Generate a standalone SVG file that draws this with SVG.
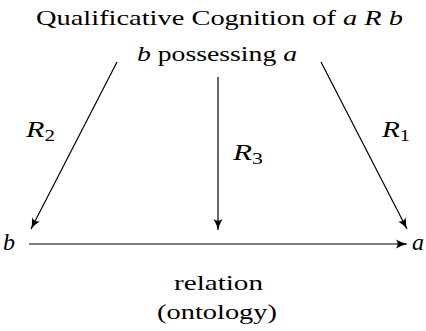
<svg xmlns="http://www.w3.org/2000/svg" width="426" height="331" viewBox="0 0 426 331">
<style>
text{font-family:'Liberation Serif','DejaVu Serif',serif;font-size:22px;fill:#000}
.i{font-style:italic}
.e{font-style:italic;font-size:24px}
.r{font-style:italic;font-size:23px}
.s{font-style:normal;font-size:16px}
.c{stroke:#000;stroke-width:1.2;fill:none;marker-end:url(#ah)}
</style>
<defs>
<marker id="ah" viewBox="0 0 12 10" refX="11" refY="5" markerWidth="12" markerHeight="10" markerUnits="userSpaceOnUse" orient="auto">
<path d="M0,0.5 Q6,4 11,5 Q6,6 0,9.5 Q3.5,5 0,0.5 Z" fill="#000"/>
</marker>
</defs>
<g id="title"><text x="36" y="25" textLength="367" lengthAdjust="spacingAndGlyphs">Qualificative Cognition of <tspan class="i">a</tspan> <tspan class="i">R</tspan> <tspan class="i">b</tspan></text></g>
<g id="top"><text x="137" y="61" textLength="160" lengthAdjust="spacingAndGlyphs"><tspan class="i">b</tspan> possessing <tspan class="i">a</tspan></text></g>
<g id="b"><text x="9" y="250" text-anchor="middle" class="e">b</text></g>
<g id="a"><text x="418" y="250" text-anchor="middle" class="e">a</text></g>
<g id="connectors">
<path class="c" d="M117,62 L31,229"/>
<path class="c" d="M218,77 L218,230"/>
<path class="c" d="M321,62 L407,229"/>
<path class="c" d="M29,244 L407,244"/>
</g>
<g id="labels">
<text x="26" y="137" class="r" textLength="29" lengthAdjust="spacingAndGlyphs">R<tspan class="s" dy="4">2</tspan></text>
<text x="233" y="160" class="r" textLength="30" lengthAdjust="spacingAndGlyphs">R<tspan class="s" dy="4">3</tspan></text>
<text x="382" y="137" class="r" textLength="28" lengthAdjust="spacingAndGlyphs">R<tspan class="s" dy="4">1</tspan></text>
<text x="174" y="290" textLength="89" lengthAdjust="spacingAndGlyphs">relation</text>
<text x="157" y="319" textLength="120" lengthAdjust="spacingAndGlyphs">(ontology)</text>
</g>
</svg>
